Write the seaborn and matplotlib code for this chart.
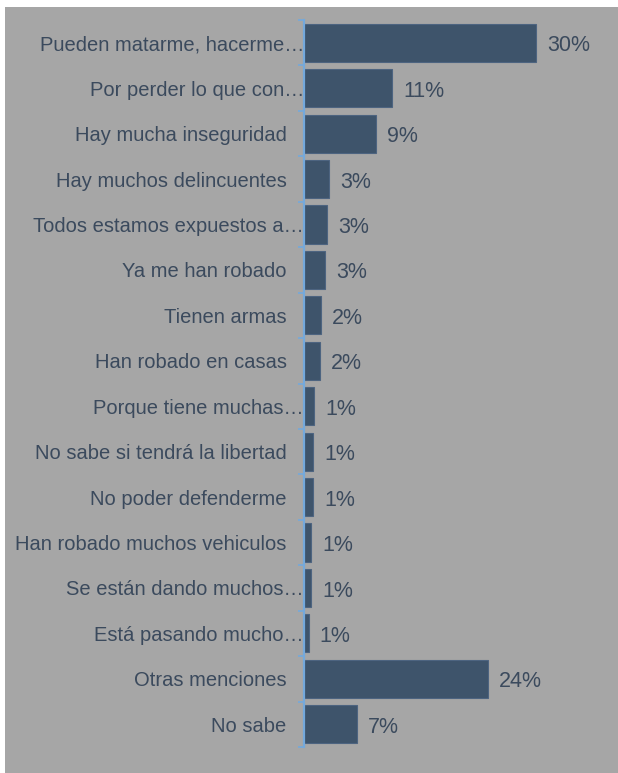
import matplotlib
matplotlib.use("Agg")
import matplotlib.pyplot as plt
import matplotlib.transforms as mtransforms
from matplotlib.patches import Rectangle
import seaborn as sns
import pandas as pd

categories = [
    "Pueden matarme, hacerme…",
    "Por perder lo que con…",
    "Hay mucha inseguridad",
    "Hay muchos delincuentes",
    "Todos estamos expuestos a…",
    "Ya me han robado",
    "Tienen armas",
    "Han robado en casas",
    "Porque tiene muchas…",
    "No sabe si tendrá la libertad",
    "No poder defenderme",
    "Han robado muchos vehiculos",
    "Se están dando muchos…",
    "Está pasando mucho…",
    "Otras menciones",
    "No sabe",
]
values = [30.0, 11.4, 9.35, 3.3, 2.95, 2.7, 2.2, 2.05, 1.3, 1.2, 1.2, 0.9, 0.9, 0.6, 23.8, 6.8]
value_labels = ["30%", "11%", "9%", "3%", "3%", "3%", "2%", "2%", "1%", "1%", "1%", "1%", "1%", "1%", "24%", "7%"]

BG = "#a6a6a6"
BAR = "#3e546b"
TXT = "#3b4a5d"
AXC = "#74a9dc"

sns.set_theme(style="white")
plt.rcParams["font.family"] = ["Liberation Sans", "DejaVu Sans"]

df = pd.DataFrame({"cat": categories, "val": values})

fig = plt.figure(figsize=(6.18, 7.73), dpi=100, facecolor="white")
bg = fig.add_axes([5 / 618, 0, 613 / 618, 766 / 773], zorder=-10)
bg.set_facecolor(BG)
bg.set_axis_off()
bg.add_patch(Rectangle((0, 0), 1, 1, transform=bg.transAxes, facecolor=BG, edgecolor="none"))

ax = fig.add_axes([304 / 618, 26 / 773, 309 / 618, 727 / 773], zorder=1)
ax.set_facecolor("none")

sns.barplot(data=df, x="val", y="cat", orient="h", color=BAR, width=0.84,
            edgecolor="#4d6480", linewidth=0.8, saturation=1, ax=ax)
ax.set_xlim(0, 40)
ax.set_xlabel("")
ax.set_ylabel("")
ax.set_xticks([])

for s in ["top", "right", "bottom"]:
    ax.spines[s].set_visible(False)
ax.spines["left"].set_color(AXC)
ax.spines["left"].set_linewidth(1.6)

anns = ax.bar_label(ax.containers[0], labels=value_labels, padding=8, fontsize=15.5, color=TXT)
for t in anns:
    t.xyann = (8, -2.2)

n = len(categories)
ax.set_yticks(range(n))
ax.set_yticklabels(categories)
ax.set_yticks([i - 0.5 for i in range(n + 1)], minor=True)
ax.tick_params(axis="y", which="major", length=0, pad=12.5, labelsize=14.5, labelcolor=TXT)
ax.tick_params(axis="y", which="minor", length=4, width=1.2, color=AXC, direction="out", left=True)

for lab in ax.get_yticklabels():
    if lab.get_text().endswith("…"):
        off = mtransforms.ScaledTranslation(12.5 / 72, 0, fig.dpi_scale_trans)
        lab.set_transform(lab.get_transform() + off)

fig.savefig("out.png", dpi=100, facecolor="white")
